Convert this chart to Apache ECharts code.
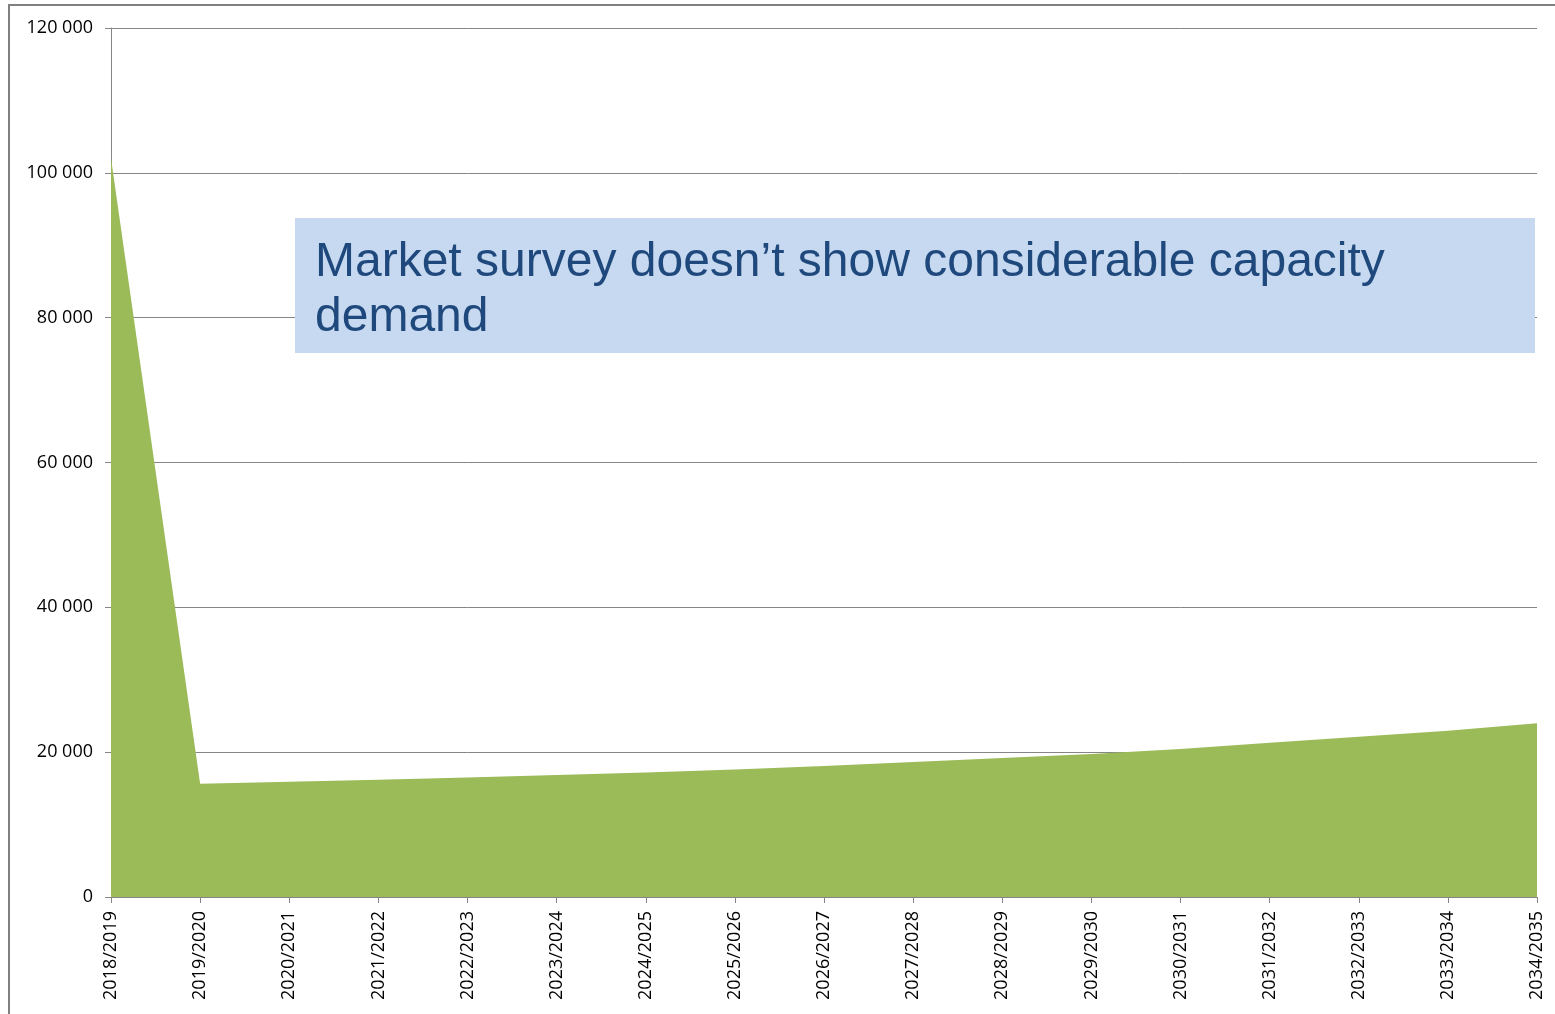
<!DOCTYPE html>
<html>
<head>
<meta charset="utf-8">
<script src="https://cdn.jsdelivr.net/npm/echarts@6/dist/echarts.min.js"></script>
<style>html,body{margin:0;padding:0;background:#fff;}#c{width:1555px;height:1014px;}</style>
</head>
<body>
<div id="c"></div>
<script>
const categories = ["2018/2019","2019/2020","2020/2021","2021/2022","2022/2023","2023/2024","2024/2025","2025/2026","2026/2027","2027/2028","2028/2029","2029/2030","2030/2031","2031/2032","2032/2033","2033/2034","2034/2035"];
const capacityDemand = [102000,15650,15900,16200,16500,16850,17200,17600,18100,18650,19200,19750,20450,21300,22130,22970,23980];
const yTicks = [0,20000,40000,60000,80000,100000,120000];
const annotationText = "Market survey doesn\u2019t show considerable capacity\ndemand";

const chart = echarts.init(document.getElementById('c'), null, {renderer:'canvas'});
chart.setOption({
  animation:false,
  backgroundColor:'#ffffff',
  grid:{left:111,right:18,top:28,bottom:117,containLabel:false},
  xAxis:{
    type:'category',
    data:categories,
    boundaryGap:false,
    axisLine:{lineStyle:{color:'#868686',width:1}},
    axisTick:{show:true,length:6,lineStyle:{color:'#868686'}},
    axisLabel:{rotate:90,margin:14,color:'#000',fontFamily:'Open Sans',fontSize:18,interval:0}
  },
  yAxis:{
    type:'value',
    min:yTicks[0],
    max:yTicks[yTicks.length-1],
    interval:20000,
    axisLine:{show:true,lineStyle:{color:'#868686',width:1}},
    axisTick:{show:true,length:6,lineStyle:{color:'#868686'}},
    splitLine:{lineStyle:{color:'#868686',width:1}},
    axisLabel:{margin:18,color:'#000',fontFamily:'Open Sans',fontSize:18,
      formatter:v=>{const s=String(v);return s.replace(/\B(?=(\d{3})+(?!\d))/g,' ');}}
  },
  series:[{
    type:'line',
    data:capacityDemand,
    symbol:'none',
    lineStyle:{width:0},
    areaStyle:{color:'#9bbb59',opacity:1},
    z:3
  }],
  graphic:[
    {type:'rect',z:100,shape:{x:9,y:5,width:1700,height:1200},style:{fill:'none',stroke:'#808080',lineWidth:2}},
    {type:'rect',z:100,shape:{x:295,y:218,width:1240,height:135},style:{fill:'#c6d9f0'}},
    {type:'text',z:101,x:315,y:235,style:{text:annotationText,fill:'#1f497d',font:'48px "Liberation Sans"',lineHeight:55}}
  ]
});
</script>
</body>
</html>
